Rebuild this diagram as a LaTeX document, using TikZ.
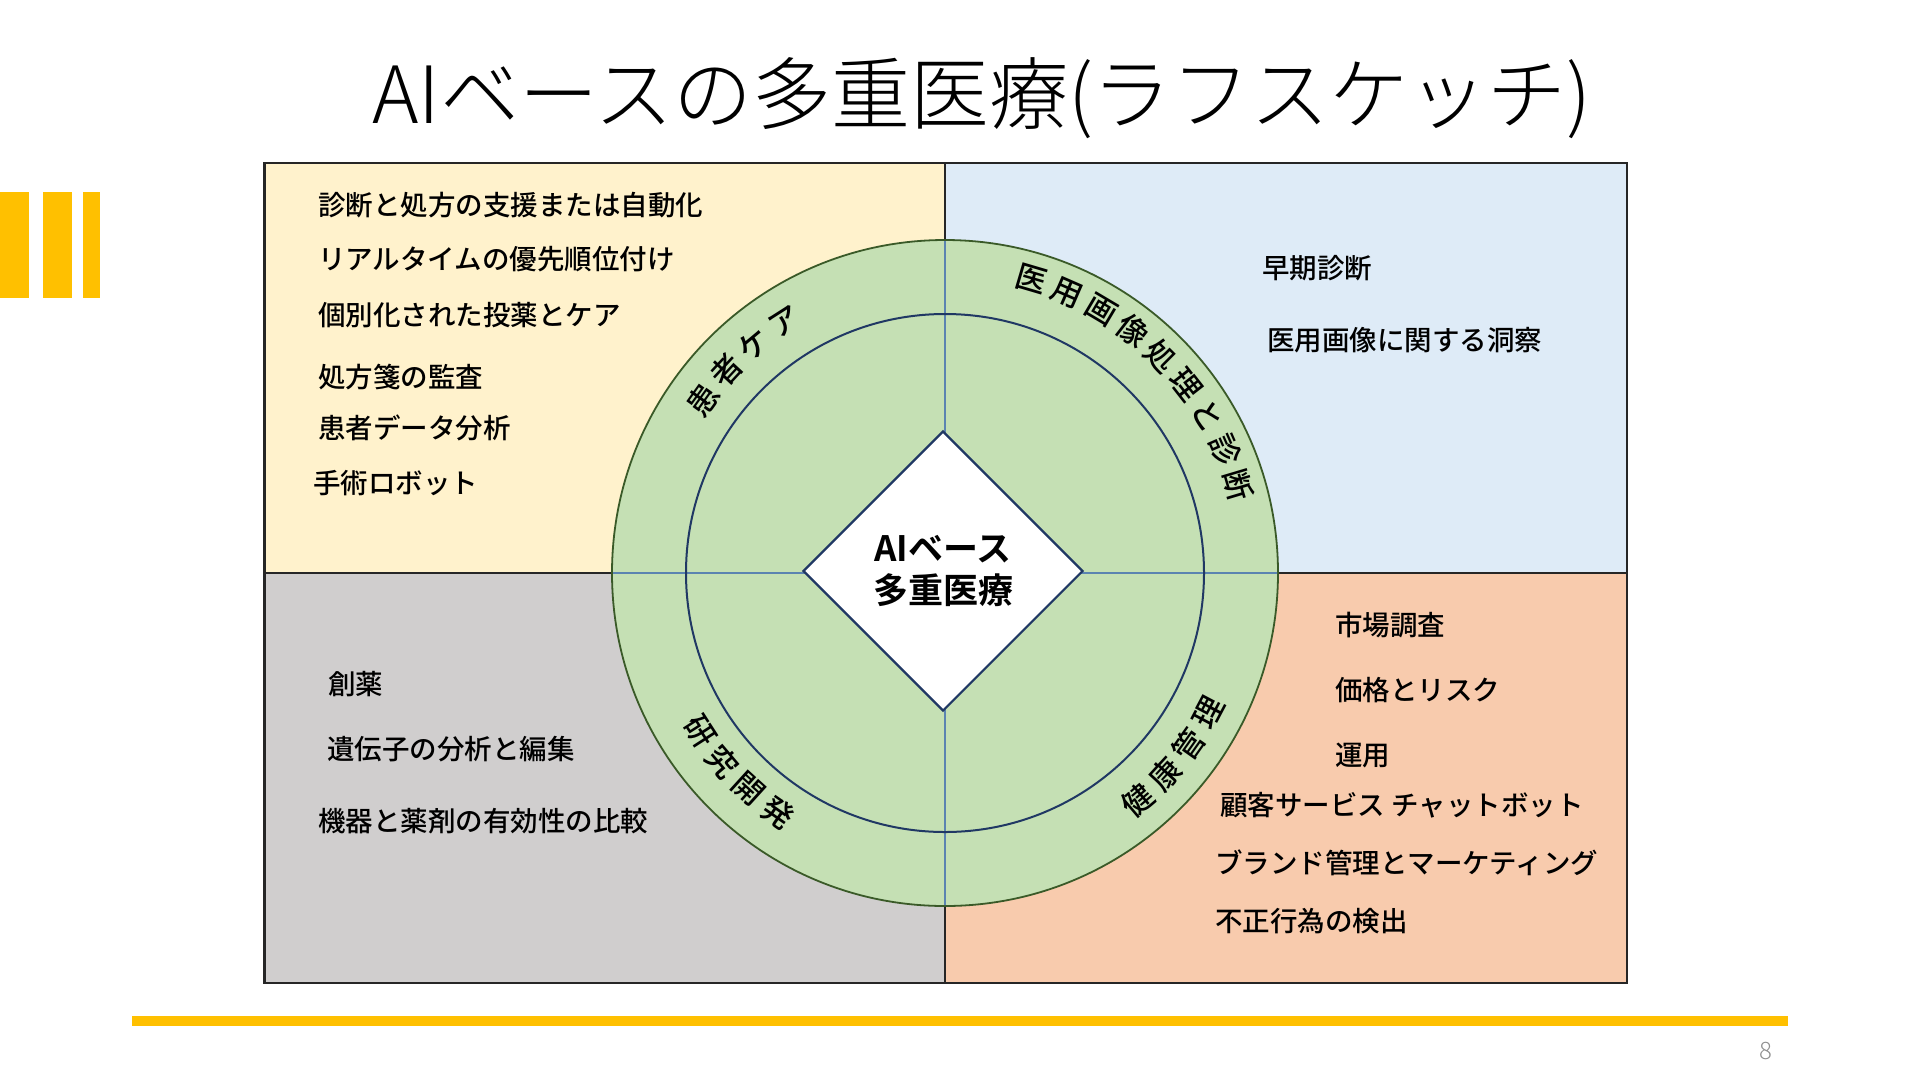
\documentclass[tikz,border=0pt]{standalone}
\usepackage{fontspec}
\setmainfont{Noto Sans CJK JP}
\newfontfamily\jplight{Noto Sans CJK JP Light}
\newfontfamily\jpmed{Noto Sans CJK JP Medium}
\newfontfamily\jpbold{Noto Sans CJK JP Bold}
\usetikzlibrary{shapes.geometric}
\definecolor{qyellow}{HTML}{FFF2CC}
\definecolor{qblue}{HTML}{DEEBF7}
\definecolor{qgray}{HTML}{D0CECE}
\definecolor{qpeach}{HTML}{F8CBAD}
\definecolor{ringgreen}{HTML}{C5E0B4}
\definecolor{ringedge}{HTML}{3A5A28}
\definecolor{navy}{HTML}{203864}
\definecolor{crossblue}{HTML}{5B84B1}
\definecolor{accent}{HTML}{FFC000}
\definecolor{pagegray}{HTML}{909090}
\tikzset{
  quad/.style={draw=black!85, line width=2.4pt},
  qtext/.style={anchor=west, inner sep=0pt, font=\jpmed\fontsize{27.5}{32}\selectfont},
  arclbl/.style={inner sep=0pt, font=\jpmed\fontsize{31}{34}\selectfont},
  bar/.style={fill=accent, draw=none},
}
\begin{document}
\begin{tikzpicture}[x=1pt,y=-1pt]
\useasboundingbox (0,0) rectangle (1920,1080);
% accent bars
\fill[bar] (0,192) rectangle (29,298);
\fill[bar] (43,192) rectangle (72,298);
\fill[bar] (83,192) rectangle (100,298);
\fill[bar] (132,1016) rectangle (1788,1026);
% title
\node[font=\jplight\fontsize{79}{90}\selectfont, anchor=base, inner sep=0pt] (title) at (982,123) {AIベースの多重医療(ラフスケッチ)};
% page number
\node[font=\jplight\fontsize{24}{26}\selectfont, text=pagegray, inner sep=0pt] (pnum) at (1766,1051) {8};
% quadrants
\filldraw[quad, fill=qyellow] (264.5,163) rectangle (945,573);
\filldraw[quad, fill=qblue] (945,163) rectangle (1627,573);
\filldraw[quad, fill=qgray] (264.5,573) rectangle (945,983);
\filldraw[quad, fill=qpeach] (945,573) rectangle (1627,983);
% rings
\coordinate (c) at (945,573);
\node[circle, minimum size=666pt, inner sep=0pt, fill=ringgreen, draw=ringedge, line width=1.8pt] (outer) at (c) {};
\begin{scope}
  \clip (c) circle (332pt);
  \coordinate (hl) at (600,573); \coordinate (hr) at (1290,573);
  \coordinate (vt) at (945,230); \coordinate (vb) at (945,916);
  \draw[crossblue, line width=1.1pt] (hl) -- (hr);
  \draw[crossblue, line width=1.1pt] (vt) -- (vb);
\end{scope}
\node[circle, minimum size=518pt, inner sep=0pt, draw=navy, line width=2pt] (inner) at (c) {};
% diamond
\node[diamond, aspect=1, minimum width=280pt, minimum height=280pt, inner sep=0pt, fill=white, draw=navy, line width=2.2pt] (dia) at (943,571) {};
\node[align=center, inner sep=0pt, font=\jpbold\fontsize{35}{42}\selectfont] (ctext) at (943,571) {AIベース\\多重医療};
% arc labels (top: tops outward, bottom: tops inward)
\foreach \ch [count=\i from 0] in {患,者,ケ,ア}{
  \pgfmathsetmacro\ang{133.5+1.5*7.31-\i*7.31}
  \pgfmathsetmacro\rot{\ang-90}
  \node[arclbl, rotate=\rot] (pc\i) at ({945+298*cos(\ang)},{573-298*sin(\ang)}) {\ch};
}
\foreach \ch [count=\i from 0] in {医,用,画,像,処,理,と,診,断}{
  \pgfmathsetmacro\ang{45.1+4*7.12-\i*7.12}
  \pgfmathsetmacro\rot{\ang-90}
  \node[arclbl, rotate=\rot] (mi\i) at ({945+306*cos(\ang)},{573-306*sin(\ang)}) {\ch};
}
\foreach \ch [count=\i from 0] in {研,究,開,発}{
  \pgfmathsetmacro\ang{224-1.5*7.46+\i*7.46}
  \pgfmathsetmacro\rot{\ang+90}
  \node[arclbl, rotate=\rot] (rd\i) at ({945+292*cos(\ang)},{573-292*sin(\ang)}) {\ch};
}
\foreach \ch [count=\i from 0] in {健,康,管,理}{
  \pgfmathsetmacro\ang{-38.8-1.5*7.31+\i*7.31}
  \pgfmathsetmacro\rot{\ang+90}
  \node[arclbl, rotate=\rot] (hm\i) at ({945+298*cos(\ang)},{573-298*sin(\ang)}) {\ch};
}
% top-left texts
\node[qtext] (tl1) at (318,205) {診断と処方の支援または自動化};
\node[qtext] (tl2) at (318,259) {リアルタイムの優先順位付け};
\node[qtext] (tl3) at (318,315) {個別化された投薬とケア};
\node[qtext] (tl4) at (318,377) {処方箋の監査};
\node[qtext] (tl5) at (318,428) {患者データ分析};
\node[qtext] (tl6) at (313,483) {手術ロボット};
% top-right texts
\node[qtext] (tr1) at (1262,268) {早期診断};
\node[qtext] (tr2) at (1267,340) {医用画像に関する洞察};
% bottom-left texts
\node[qtext] (bl1) at (328,684) {創薬};
\node[qtext] (bl2) at (327,749) {遺伝子の分析と編集};
\node[qtext] (bl3) at (318,821) {機器と薬剤の有効性の比較};
% bottom-right texts
\node[qtext] (br1) at (1335,625) {市場調査};
\node[qtext] (br2) at (1335,690) {価格とリスク};
\node[qtext] (br3) at (1335,755) {運用};
\node[qtext] (br4) at (1220,805) {顧客サービス チャットボット};
\node[qtext] (br5) at (1215,863) {ブランド管理とマーケティング};
\node[qtext] (br6) at (1215,921) {不正行為の検出};
\end{tikzpicture}
\end{document}
